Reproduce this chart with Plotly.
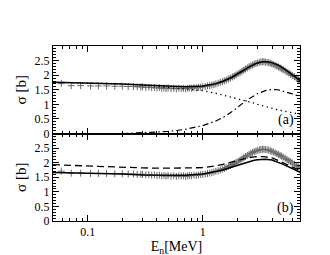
import plotly.graph_objects as go
from plotly.subplots import make_subplots

# ---- data ----
data_E = [0.059, 0.072, 0.087, 0.106, 0.124, 0.146, 0.172, 0.20, 0.225, 0.25, 0.27, 0.29,
          0.30, 0.32, 0.34, 0.36, 0.38, 0.40, 0.42, 0.44, 0.46, 0.48, 0.50, 0.53, 0.56, 0.59,
          0.62, 0.65, 0.68, 0.71, 0.74, 0.77, 0.80, 0.84, 0.88, 0.92, 0.96, 1.00, 1.05, 1.10,
          1.15, 1.20, 1.25, 1.30, 1.36, 1.42, 1.48, 1.54, 1.60, 1.67, 1.74, 1.81, 1.88, 1.95,
          2.03, 2.11, 2.19, 2.27, 2.35, 2.44, 2.53, 2.62, 2.71, 2.80, 2.90, 3.00, 3.10, 3.20,
          3.30, 3.40, 3.50, 3.62, 3.74, 3.86, 3.98, 4.10, 4.25, 4.40, 4.55, 4.70, 4.85, 5.00,
          5.20, 5.40, 5.60, 5.80, 6.00, 6.25, 6.50, 6.75, 7.00]
data_sigma = [1.71, 1.64, 1.64, 1.63, 1.63, 1.63, 1.62, 1.62, 1.61, 1.61, 1.60, 1.60,
              1.60, 1.58, 1.59, 1.57, 1.58, 1.56, 1.57, 1.55, 1.56, 1.54, 1.56, 1.54, 1.55, 1.53,
              1.55, 1.54, 1.55, 1.53, 1.55, 1.56, 1.55, 1.57, 1.56, 1.58, 1.59, 1.60, 1.61, 1.63,
              1.64, 1.66, 1.68, 1.70, 1.72, 1.75, 1.78, 1.80, 1.83, 1.87, 1.90, 1.94, 1.97, 2.01,
              2.05, 2.09, 2.13, 2.17, 2.21, 2.25, 2.29, 2.32, 2.35, 2.38, 2.40, 2.42, 2.44, 2.45,
              2.46, 2.46, 2.45, 2.44, 2.43, 2.41, 2.39, 2.37, 2.34, 2.31, 2.28, 2.25, 2.22, 2.19,
              2.15, 2.11, 2.07, 2.03, 1.99, 1.95, 1.90, 1.86, 1.82]

# panel (a) curves
a_E = [0.05, 0.07, 0.1, 0.15, 0.2, 0.3, 0.5, 0.7, 1.0, 1.3, 1.5, 1.8, 2.0, 2.3, 2.5, 2.8,
       3.0, 3.3, 3.5, 4.0, 4.5, 5.0, 6.0, 7.0]
a_total = [1.76, 1.75, 1.74, 1.72, 1.70, 1.66, 1.61, 1.60, 1.63, 1.71, 1.79, 1.93, 2.04, 2.19,
           2.27, 2.37, 2.42, 2.46, 2.47, 2.43, 2.35, 2.24, 2.01, 1.82]
a_elastic = [1.76, 1.75, 1.74, 1.72, 1.70, 1.66, 1.59, 1.53, 1.47, 1.38, 1.32, 1.24, 1.20,
             1.14, 1.10, 1.04, 1.00, 0.95, 0.92, 0.86, 0.81, 0.77, 0.71, 0.66]
c_E = [0.2, 0.3, 0.5, 0.7, 1.0, 1.3, 1.5, 1.8, 2.0, 2.3, 2.5, 2.8, 3.0, 3.5, 4.0, 4.5, 5.0,
       6.0, 7.0]
a_inel = [0.00, 0.02, 0.07, 0.14, 0.27, 0.43, 0.55, 0.75, 0.90, 1.08, 1.18, 1.30, 1.37,
          1.47, 1.51, 1.50, 1.45, 1.36, 1.26]

# panel (b) curves
b_E = [0.05, 0.07, 0.1, 0.15, 0.2, 0.3, 0.5, 0.7, 1.0, 1.3, 1.5, 1.8, 2.0, 2.3, 2.5, 2.8,
       3.0, 3.3, 3.5, 4.0, 4.5, 5.0, 6.0, 7.0]
b_solid = [1.66, 1.65, 1.64, 1.62, 1.61, 1.58, 1.56, 1.57, 1.61, 1.69, 1.75, 1.85, 1.91,
           1.99, 2.03, 2.08, 2.10, 2.12, 2.12, 2.09, 2.02, 1.94, 1.80, 1.67]
b_dash = [1.93, 1.91, 1.88, 1.85, 1.84, 1.82, 1.81, 1.81, 1.83, 1.89, 1.94, 2.03, 2.08,
          2.14, 2.17, 2.20, 2.21, 2.21, 2.20, 2.16, 2.08, 1.99, 1.85, 1.73]

x_major = [0.1, 1]
x_labels = ["0.1", "1"]
x_minor = [0.06, 0.07, 0.08, 0.09, 0.2, 0.3, 0.4, 0.5, 0.6, 0.7, 0.8, 0.9, 2, 3, 4, 5, 6, 7]
y_ticks = [0, 0.5, 1, 1.5, 2, 2.5]
y_labels = ["0", "0.5", "1", "1.5", "2", "2.5"]

FONT = "Liberation Serif"
INK = "black"

fig = make_subplots(rows=2, cols=1, shared_xaxes=True, vertical_spacing=0)

cross = dict(symbol="cross-thin", size=5, line=dict(width=1, color="#6a6a6a"), color="#6a6a6a")

# panel (a)
fig.add_trace(go.Scatter(x=data_E, y=data_sigma, mode="markers", marker=cross), row=1, col=1)
fig.add_trace(go.Scatter(x=a_E, y=a_total, mode="lines", line=dict(color=INK, width=1.5)), row=1, col=1)
fig.add_trace(go.Scatter(x=a_E, y=a_elastic, mode="lines",
                         line=dict(color=INK, width=1.3, dash="1.3px,3.5px")), row=1, col=1)
fig.add_trace(go.Scatter(x=c_E, y=a_inel, mode="lines",
                         line=dict(color=INK, width=1.2, dash="6px,3px,1.5px,3px")), row=1, col=1)

# panel (b)
fig.add_trace(go.Scatter(x=data_E, y=data_sigma, mode="markers", marker=cross), row=2, col=1)
fig.add_trace(go.Scatter(x=b_E, y=b_dash, mode="lines",
                         line=dict(color=INK, width=1.3, dash="7px,4px")), row=2, col=1)
fig.add_trace(go.Scatter(x=b_E, y=b_solid, mode="lines", line=dict(color=INK, width=1.5)), row=2, col=1)

xcommon = dict(type="log", range=[-1.301, 0.845], showgrid=False, zeroline=False,
               showline=True, linecolor=INK, linewidth=1, mirror="allticks",
               ticks="inside", ticklen=6, tickcolor=INK, tickwidth=1,
               tickvals=x_major, ticktext=x_labels,
               minor=dict(tickvals=x_minor, ticks="inside", ticklen=3, tickcolor=INK, showgrid=False),
               tickfont=dict(family=FONT, size=12, color=INK))
fig.update_xaxes(**xcommon)
fig.update_xaxes(showticklabels=False, row=1, col=1)
fig.update_xaxes(title=dict(text="E<sub>n</sub>[MeV]", font=dict(family=FONT, size=14, color=INK), standoff=2),
                 row=2, col=1)

ycommon = dict(range=[0, 3], showgrid=False, zeroline=False,
               showline=True, linecolor=INK, linewidth=1, mirror="allticks",
               ticks="inside", ticklen=6, tickcolor=INK, tickwidth=1,
               tickvals=y_ticks, ticktext=y_labels,
               minor=dict(dtick=0.1, tick0=0, ticks="inside", ticklen=3, tickcolor=INK, showgrid=False),
               tickfont=dict(family=FONT, size=12, color=INK),
               title=dict(text="σ [b]", font=dict(family=FONT, size=15, color=INK), standoff=4))
fig.update_yaxes(**ycommon)

fig.add_annotation(text="(a)", x=0.985, y=0.52, xref="paper", yref="paper",
                   xanchor="right", yanchor="bottom", showarrow=False,
                   font=dict(family=FONT, size=14, color=INK))
fig.add_annotation(text="(b)", x=0.985, y=0.02, xref="paper", yref="paper",
                   xanchor="right", yanchor="bottom", showarrow=False,
                   font=dict(family=FONT, size=14, color=INK))

fig.update_layout(width=330, height=255, showlegend=False,
                  margin=dict(l=38, r=38, t=38, b=38),
                  paper_bgcolor="white", plot_bgcolor="white")

fig.write_html("out.html")
